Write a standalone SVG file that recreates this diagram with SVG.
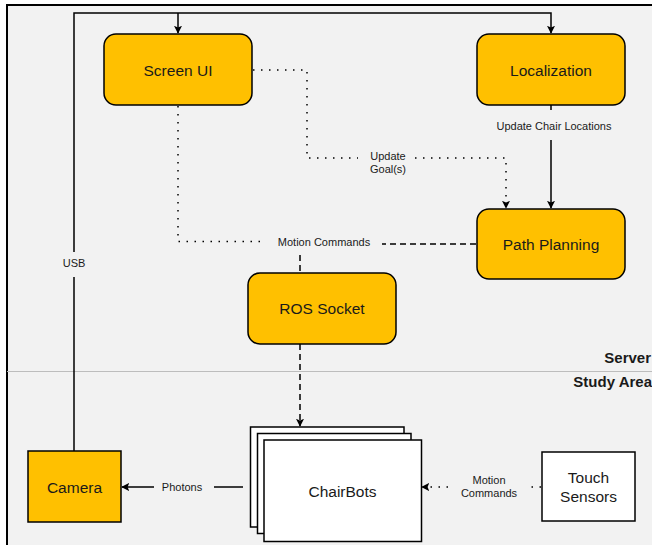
<svg xmlns="http://www.w3.org/2000/svg" width="652" height="545" viewBox="0 0 652 545">
<style>
  text { font-family: "Liberation Sans", Arial, sans-serif; fill: #1a1a1a; }
  .node { fill: #ffc000; stroke: #000; stroke-width: 1.5; }
  .box { fill: #ffffff; stroke: #000; stroke-width: 1.5; }
  .nlabel { font-size: 15.5px; text-anchor: middle; }
  .elabel { font-size: 11px; text-anchor: middle; }
  .solid { fill: none; stroke: #000; stroke-width: 1.5; }
  .dotted { fill: none; stroke: #000; stroke-width: 1.5; stroke-dasharray: 1.5 6.5; }
  .dashed { fill: none; stroke: #000; stroke-width: 1.5; stroke-dasharray: 6 4; }
  .zone { font-size: 15px; font-weight: bold; text-anchor: end; }
</style>
<defs>
  <marker id="arr" viewBox="0 0 10 10" refX="9" refY="5" markerWidth="8" markerHeight="8" markerUnits="userSpaceOnUse" orient="auto">
    <path d="M0,0 L10,5 L0,10 L2,5 Z" fill="#000"/>
  </marker>
</defs>
<rect x="0" y="0" width="652" height="545" fill="#ffffff"/>
<rect x="7" y="5" width="700" height="600" fill="#f2f2f2" stroke="#000" stroke-width="2"/>
<line x1="7" y1="371.5" x2="652" y2="371.5" stroke="#bdbdbd" stroke-width="1.2"/>
<text class="zone" x="651" y="363">Server</text>
<text class="zone" x="652" y="387">Study Area</text>

<g id="connectors">
  <!-- USB loop -->
  <path class="solid" d="M74,451 V277"/>
  <path class="solid" d="M74,252 V13 H551 V33" marker-end="url(#arr)"/>
  <path class="solid" d="M178,13 V33" marker-end="url(#arr)"/>
  <text class="elabel" x="74" y="267">USB</text>
  <!-- Screen UI -> Path Planning (Update Goal(s)) -->
  <path class="dotted" d="M253,70 H307 V158 H358"/>
  <path class="dotted" d="M415,158 H506 V208" marker-end="url(#arr)"/>
  <text class="elabel" x="388" y="159.5">Update</text>
  <text class="elabel" x="388" y="172.5">Goal(s)</text>
  <!-- Localization -> Path Planning -->
  <path class="solid" d="M551,105 V110"/>
  <path class="solid" d="M551,140 V208" marker-end="url(#arr)"/>
  <text class="elabel" x="554" y="129.5">Update Chair Locations</text>
  <!-- Screen UI / Path Planning -> ROS Socket (Motion Commands) -->
  <path class="dotted" d="M178,106 V241.5 H265"/>
  <path class="dashed" d="M476,244 H382"/>
  <path class="dashed" d="M300,255 V273"/>
  <text class="elabel" x="324" y="245.5">Motion Commands</text>
  <!-- ROS Socket -> ChairBots -->
  <path class="dashed" d="M300,344 V426" marker-end="url(#arr)"/>
  <!-- ChairBots -> Camera -->
  <path class="solid" d="M243,487 H214"/>
  <path class="solid" d="M154,487 H122" marker-end="url(#arr)"/>
  <text class="elabel" x="182" y="491">Photons</text>
  <!-- Touch Sensors -> ChairBots -->
  <path class="dotted" d="M541,487 H529"/>
  <path class="dotted" d="M448,487 H422" marker-end="url(#arr)"/>
  <text class="elabel" x="489" y="484">Motion</text>
  <text class="elabel" x="489" y="497">Commands</text>
</g>

<g id="screen-ui">
  <rect class="node" x="104" y="34" width="148" height="71" rx="12"/>
  <text class="nlabel" x="178" y="75.5">Screen UI</text>
</g>
<g id="localization">
  <rect class="node" x="477" y="34" width="148" height="71" rx="12"/>
  <text class="nlabel" x="551" y="75.5">Localization</text>
</g>
<g id="path-planning">
  <rect class="node" x="477" y="209" width="148" height="70" rx="12"/>
  <text class="nlabel" x="551" y="249.5">Path Planning</text>
</g>
<g id="ros-socket">
  <rect class="node" x="248" y="273" width="148" height="71" rx="12"/>
  <text class="nlabel" x="322" y="314">ROS Socket</text>
</g>
<g id="camera">
  <rect class="node" x="28" y="451" width="93" height="71"/>
  <text class="nlabel" x="74.5" y="492.5">Camera</text>
</g>
<g id="chairbots">
  <rect class="box" x="250.5" y="427" width="153.5" height="100"/>
  <rect class="box" x="257.5" y="433.5" width="153.5" height="100"/>
  <rect class="box" x="264" y="440" width="157.5" height="101.5"/>
  <text class="nlabel" x="342.5" y="496.5">ChairBots</text>
</g>
<g id="touch-sensors">
  <rect class="box" x="542" y="452" width="93" height="69"/>
  <text class="nlabel" x="588.5" y="483">Touch</text>
  <text class="nlabel" x="588.5" y="501.5">Sensors</text>
</g>
</svg>
